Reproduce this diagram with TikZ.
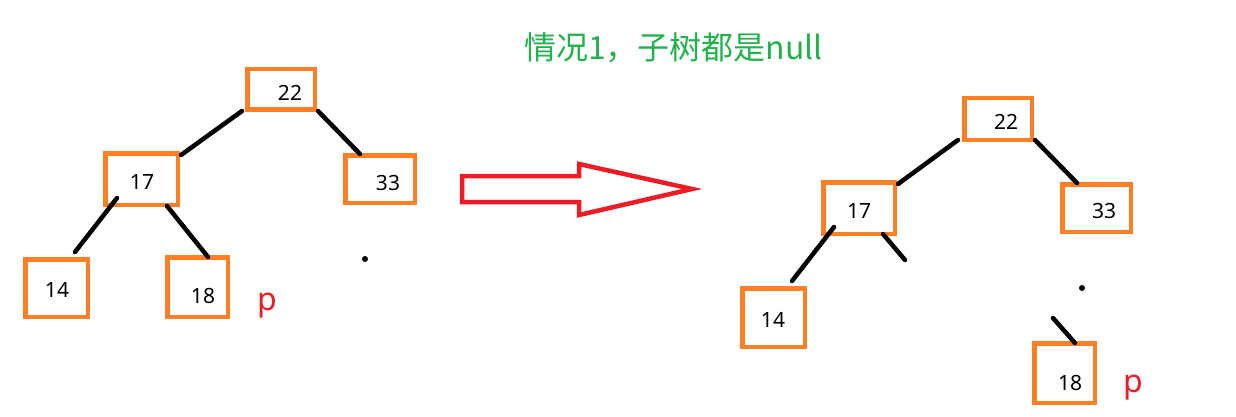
\documentclass[tikz,border=0pt]{standalone}
\usepackage{fontspec}
\setmainfont{Noto Sans}
\newfontfamily\cjkfont{Noto Sans CJK SC}
\definecolor{boxorange}{HTML}{FF7F27}
\definecolor{titlegreen}{HTML}{22B14C}
\definecolor{pred}{HTML}{ED1C24}
\begin{document}
\begin{tikzpicture}[x=1pt,y=-1pt,
    numbox/.style={draw=boxorange,line width=4.5pt,inner sep=0pt},
    num/.style={inner sep=0pt,font=\fontsize{21}{21}\selectfont},
    edge/.style={line width=4.5pt,line cap=round},
    ptag/.style={inner sep=0pt,text=pred,font=\fontsize{32}{32}\selectfont},
    dot/.style={circle,fill=black,inner sep=0pt,minimum size=6pt}]
    \useasboundingbox (0,0) rectangle (1236,417);
    % title
    \node[inner sep=0pt,text=titlegreen,font=\cjkfont\fontsize{32}{32}\selectfont] (title) at (673.5,48) {情况1，子树都是null};
    % left tree
    \node[numbox,minimum width=67.5pt,minimum height=40.5pt] (l22) at (281,89.5) {};
    \node[numbox,minimum width=72.5pt,minimum height=51.5pt] (l17) at (141.5,179) {};
    \node[numbox,minimum width=69.5pt,minimum height=47.5pt] (l33) at (380,179) {};
    \node[numbox,minimum width=62.5pt,minimum height=57.5pt] (l14) at (56.5,288) {};
    \node[numbox,minimum width=60.5pt,minimum height=59.5pt] (l18) at (197.5,287) {};
    \node[num] (l22t) at (290,93) {22};
    \node[num] (l17t) at (142,182) {17};
    \node[num] (l33t) at (388,183) {33};
    \node[num] (l14t) at (57,290) {14};
    \node[num] (l18t) at (203,296) {18};
    \node[ptag] (lp) at (267,306) {p};
    \node[dot] (ldot) at (365,259) {};
    \draw[edge] ([shift={(-3,-1)}]l22.south west) -- ([shift={(1,4)}]l17.north east);
    \draw[edge] ([shift={(1,-1)}]l22.south east) -- ([shift={(-20,1)}]l33.north);
    \draw[edge] ([shift={(-24.5,-9)}]l17.south) -- ([shift={(18.5,-5)}]l14.north);
    \draw[edge] ([shift={(25.5,-1)}]l17.south) -- ([shift={(10.5,2)}]l18.north);
    % block arrow
    \draw[pred,line width=4.5pt,line join=miter] (462,176) -- (579,176) -- (579,164) -- (692,189)
        -- (579,215) -- (579,202) -- (462,202) -- cycle;
    % right tree
    \node[numbox,minimum width=67.5pt,minimum height=41.5pt] (r22) at (998,119) {};
    \node[numbox,minimum width=71.5pt,minimum height=51.5pt] (r17) at (859,208) {};
    \node[numbox,minimum width=68.5pt,minimum height=47.5pt] (r33) at (1096.5,208) {};
    \node[numbox,minimum width=62.5pt,minimum height=58.5pt] (r14) at (773.5,317.5) {};
    \node[numbox,minimum width=60.5pt,minimum height=59.5pt] (r18) at (1064.5,373) {};
    \node[num] (r22t) at (1006,122) {22};
    \node[num] (r17t) at (859,211) {17};
    \node[num] (r33t) at (1104,211) {33};
    \node[num] (r14t) at (773,320) {14};
    \node[num] (r18t) at (1070,383) {18};
    \node[ptag] (rp) at (1133,388) {p};
    \node[dot] (rdot) at (1082,288) {};
    \coordinate (r17cut) at (905,260);
    \coordinate (r18cut) at (1053,318);
    \draw[edge] ([shift={(-4,-2)}]r22.south west) -- ([shift={(1,4)}]r17.north east);
    \draw[edge] ([shift={(1,-2)}]r22.south east) -- ([shift={(-19.5,1)}]r33.north);
    \draw[edge] ([shift={(-25,-9)}]r17.south) -- ([shift={(18.5,-5)}]r14.north);
    \draw[edge] ([shift={(24,-2)}]r17.south) -- (r17cut);
    \draw[edge] (r18cut) -- ([shift={(10.5,2)}]r18.north);
\end{tikzpicture}
\end{document}
